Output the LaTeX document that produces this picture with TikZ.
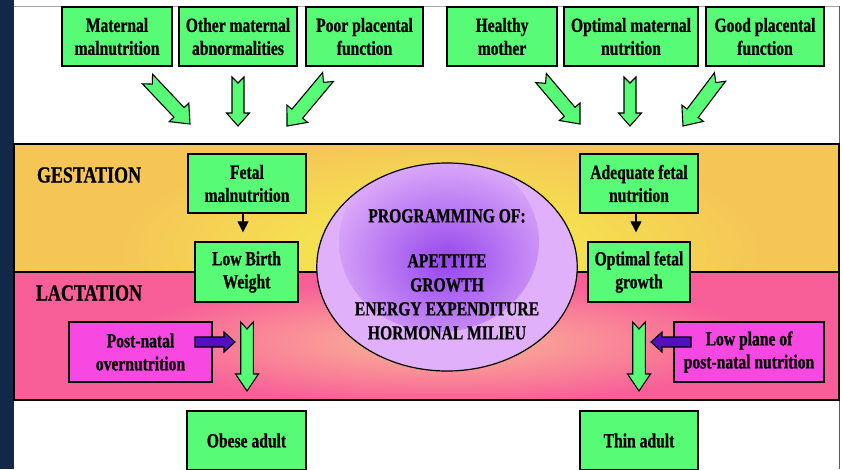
\documentclass[tikz,border=0pt]{standalone}
\usepackage{fontspec}
\setmainfont{Liberation Serif}[FakeStretch=0.78,BoldFeatures={FakeBold=0.8}]
\usetikzlibrary{calc,arrows.meta,shapes.geometric}
\definecolor{boxgreen}{RGB}{87,251,118}
\definecolor{boxmag}{RGB}{248,72,226}
\definecolor{navyC}{RGB}{18,40,72}
\definecolor{frameC}{RGB}{70,95,130}
\definecolor{orangeC}{RGB}{245,198,86}
\definecolor{yellowC}{RGB}{244,243,76}
\definecolor{pinkC}{RGB}{248,94,152}
\definecolor{peachC}{RGB}{250,186,150}
\definecolor{lavC}{RGB}{224,176,250}
\definecolor{purpC}{RGB}{150,70,236}
\definecolor{arrpurple}{RGB}{84,16,192}
\newcommand\boxfont{\fontsize{20}{23}\selectfont\bfseries}
\newcommand\ellfont{\fontsize{20}{24}\selectfont\bfseries}
\newcommand\lblfont{\fontsize{23}{26}\selectfont\bfseries}
\newcommand\blockarr[7]{%
 \path ($(#2)!#5!(#1)$) coordinate (bahb) ($(#1)!#6!(#2)$) coordinate (bant);
 \draw[#7] ($(#1)!#3!90:(#2)$) -- (bant) -- ($(#1)!#3!-90:(#2)$) -- ($(bahb)!#3!-90:(#2)$) -- ($(bahb)!#4!-90:(#2)$) -- (#2) -- ($(bahb)!#4!90:(#2)$) -- ($(bahb)!#3!90:(#2)$) -- cycle;}
\begin{document}
\begin{tikzpicture}[x=1pt,y=-1pt,
 box/.style={draw=black, line width=1.4pt, fill=boxgreen, align=center, inner sep=0pt, font=\boxfont},
 mbox/.style={box, fill=boxmag},
 garr/.style={fill=boxgreen, draw=black, line width=1.1pt, line join=miter},
 parr/.style={fill=arrpurple, draw=black, line width=1.1pt, line join=miter},
 blk/.style={draw=black, line width=1.3pt, -{Triangle[length=11pt,width=11pt]}, shorten >=9pt},
 lbl/.style={font=\lblfont}]
\useasboundingbox (0,0) rectangle (843,469);
\fill[white] (0,0) rectangle (843,469);
\fill[navyC] (0,0) rectangle (14,469);
\draw[gray!70, line width=0.8pt] (14,6) -- (839,6);
\draw[frameC, line width=1pt] (839,6) -- (839,469);
% gestation band
\begin{scope}
\clip (14,144) rectangle (839,272);
\fill[orangeC] (14,144) rectangle (839,272);
\shade[inner color=yellowC, outer color=orangeC] (440,250) ellipse (320 and 110);
\end{scope}
% lactation band
\begin{scope}
\clip (14,272) rectangle (839,400);
\fill[pinkC] (14,272) rectangle (839,400);
\shade[inner color=peachC, outer color=pinkC] (440,342) ellipse (320 and 62);
\end{scope}
\draw[black, line width=1.5pt] (14,144) rectangle (839,400);
\draw[black, line width=1.2pt] (14,272) -- (839,272);
\node[lbl] (gest) at (89,175) {GESTATION};
\node[lbl] (lact) at (89,293) {LACTATION};
% central ellipse
\node[ellipse, draw=black, line width=1.2pt, fill=lavC, minimum width=238pt, minimum height=208pt, inner sep=0pt, align=center, font=\ellfont,
 path picture={\shade[inner color=purpC, outer color=lavC] ($(path picture bounding box.center)+(-8,-25)$) ellipse (100 and 90);}]
 (prog) at (447,267) {\rule{0pt}{28pt}PROGRAMMING OF:\\[21pt]APETTITE\\GROWTH\\ENERGY EXPENDITURE\\HORMONAL MILIEU};
% top boxes
\node[box, minimum width=110pt, minimum height=59pt] (mm) at (117,36.5) {Maternal\\malnutrition};
\node[box, minimum width=118pt, minimum height=59pt] (oma) at (238,36.5) {Other maternal\\abnormalities};
\node[box, minimum width=117pt, minimum height=59pt] (ppf) at (364.5,36.5) {Poor placental\\function};
\node[box, minimum width=110pt, minimum height=59pt] (hm) at (502,36.5) {Healthy\\mother};
\node[box, minimum width=134pt, minimum height=59pt] (omn) at (631,36.5) {Optimal maternal\\nutrition};
\node[box, minimum width=118pt, minimum height=59pt] (gpf) at (765,36.5) {Good placental\\function};
% gestation boxes
\node[box, minimum width=118pt, minimum height=59pt] (fm) at (247,183.5) {Fetal\\malnutrition};
\node[box, minimum width=103pt, minimum height=60pt] (lbw) at (246.5,272) {Low Birth\\Weight};
\node[box, minimum width=118pt, minimum height=59pt] (afn) at (639,183.5) {Adequate fetal\\nutrition};
\node[box, minimum width=102pt, minimum height=60pt] (ofg) at (639,272) {Optimal fetal\\growth};
% lactation boxes
\node[mbox, minimum width=143pt, minimum height=60pt] (pno) at (140.5,352) {Post-natal\\overnutrition};
\node[mbox, minimum width=150pt, minimum height=60pt] (lpn) at (749,352) {Low plane of\\post-natal nutrition};
% adult boxes
\node[box, minimum width=119pt, minimum height=59pt] (oa) at (246.5,440.5) {Obese adult};
\node[box, minimum width=118pt, minimum height=59pt] (ta) at (639,440.5) {Thin adult};
% small arrows
\draw[blk] ([xshift=-4pt]fm.south) -- ([xshift=-4pt]fm.south |- lbw.north);
\draw[blk] ([xshift=-3pt]afn.south) -- ([xshift=-3pt]afn.south |- ofg.north);
% block arrows
\coordinate (a1t) at (147.5,79); \coordinate (a1h) at (190,124);
\coordinate (a2t) at (238,77); \coordinate (a2h) at (238,126);
\coordinate (a3t) at (328,77); \coordinate (a3h) at (287,126);
\coordinate (a4t) at (541,78); \coordinate (a4h) at (580,124);
\coordinate (a5t) at (630,77); \coordinate (a5h) at (630,126);
\coordinate (a6t) at (720,77); \coordinate (a6h) at (683,126);
\coordinate (a7t) at (247,322); \coordinate (a7h) at (247,391);
\coordinate (a8t) at (639,322); \coordinate (a8h) at (639,391);
\coordinate (p1t) at (195,342); \coordinate (p1h) at (235,342);
\coordinate (p2t) at (691,342); \coordinate (p2h) at (651,342);
\blockarr{a1t}{a1h}{7pt}{13.5pt}{16pt}{7pt}{garr}
\blockarr{a2t}{a2h}{6pt}{11.5pt}{13pt}{6pt}{garr}
\blockarr{a3t}{a3h}{7pt}{13.5pt}{16pt}{7pt}{garr}
\blockarr{a4t}{a4h}{7pt}{13.5pt}{16pt}{7pt}{garr}
\blockarr{a5t}{a5h}{6pt}{11.5pt}{13pt}{6pt}{garr}
\blockarr{a6t}{a6h}{7pt}{13.5pt}{16pt}{7pt}{garr}
\blockarr{a7t}{a7h}{6.3pt}{11.5pt}{17pt}{7pt}{garr}
\blockarr{a8t}{a8h}{6.3pt}{11.5pt}{17pt}{7pt}{garr}
\blockarr{p1t}{p1h}{5pt}{10pt}{11pt}{0pt}{parr}
\blockarr{p2t}{p2h}{5pt}{10pt}{11pt}{0pt}{parr}
\end{tikzpicture}
\end{document}
